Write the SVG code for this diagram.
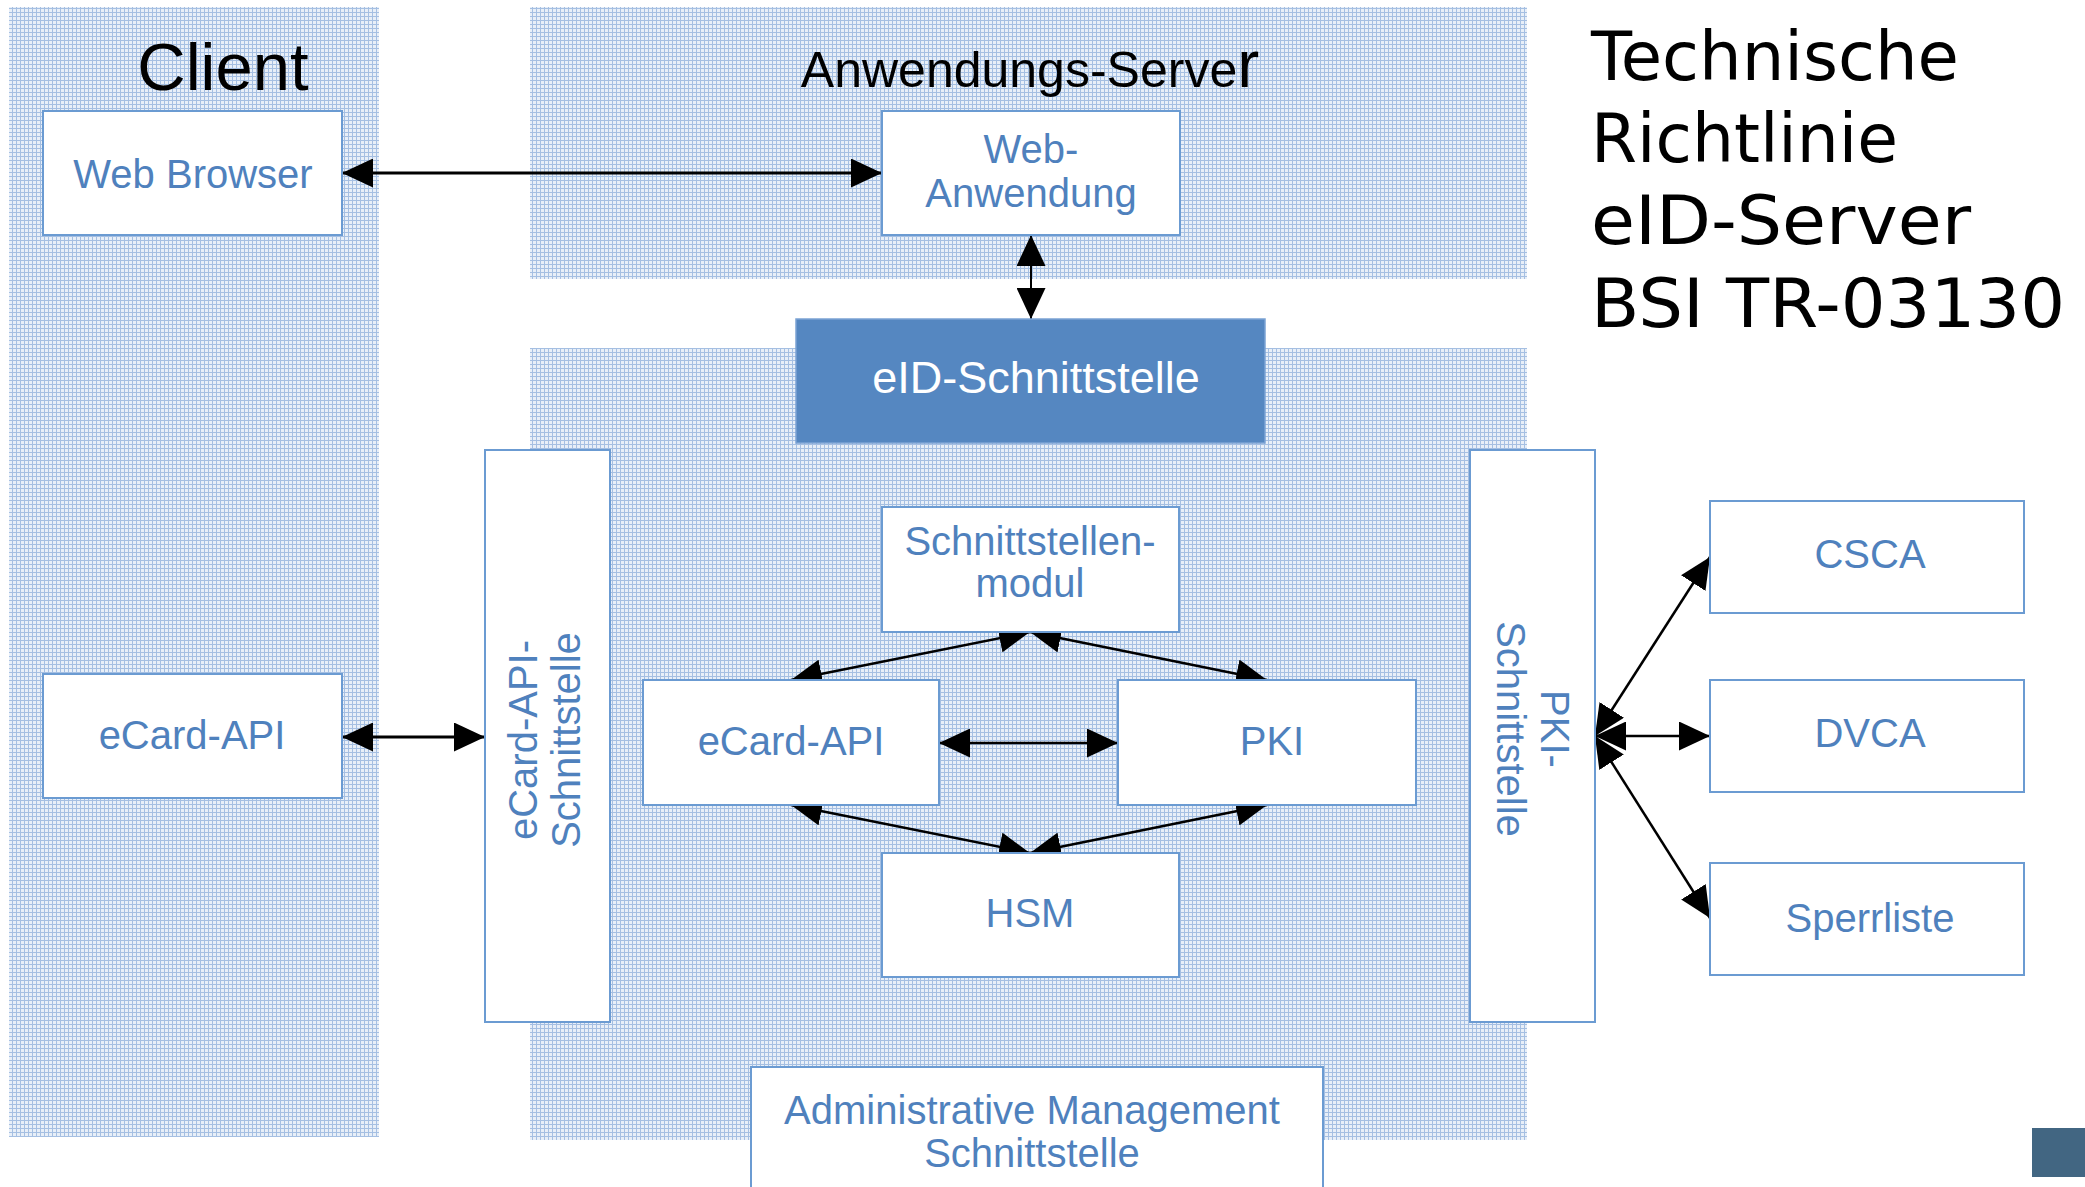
<svg xmlns="http://www.w3.org/2000/svg" width="2085" height="1187" viewBox="0 0 2085 1187">
<defs>
<pattern id="grid" width="4" height="4" patternUnits="userSpaceOnUse">
<rect width="4" height="4" fill="#e8eff8"/>
<rect width="1" height="4" fill="#a5bfe2"/>
<rect width="4" height="1" fill="#a5bfe2"/>
</pattern>
<marker id="ah" markerUnits="userSpaceOnUse" markerWidth="31" markerHeight="29" refX="31" refY="14.5" orient="auto-start-reverse" viewBox="0 0 31 29">
<path d="M0,0 L31,14.5 L0,29 z" fill="#000"/>
</marker>
</defs>
<style>
.panel{fill:url(#grid);}
.box{fill:#fff;stroke:#6b9bd2;stroke-width:2;}
.lbl{font-family:"Liberation Sans",Arial,sans-serif;font-size:40px;fill:#4f81bd;text-anchor:middle;}
.head{font-family:"Liberation Sans",Arial,sans-serif;fill:#000;text-anchor:middle;}
.title{font-family:"DejaVu Sans",Verdana,sans-serif;font-size:68px;fill:#000;}
.con{stroke:#000;stroke-width:2.5;fill:none;marker-start:url(#ah);marker-end:url(#ah);}
</style>
<rect width="2085" height="1187" fill="#fff"/>

<g id="panels">
<rect class="panel" x="9" y="7" width="370" height="1130"/>
<rect class="panel" x="530" y="7" width="997" height="272"/>
<rect class="panel" x="530" y="348" width="997" height="792"/>
</g>

<g id="headings">
<text class="head" x="223" y="90" font-size="67">Client</text>
<text class="head" x="1030" y="87" font-size="50">Anwendungs-Serve<tspan font-size="66">r</tspan></text>
</g>

<g id="title">
<text class="title" x="1591" y="80" textLength="368" lengthAdjust="spacingAndGlyphs">Technische</text>
<text class="title" x="1591" y="162" textLength="307" lengthAdjust="spacingAndGlyphs">Richtlinie</text>
<text class="title" x="1591" y="244" textLength="380" lengthAdjust="spacingAndGlyphs">eID-Server</text>
<text class="title" x="1591" y="327" textLength="474" lengthAdjust="spacingAndGlyphs">BSI TR-03130</text>
</g>

<g id="connectors">
<line class="con" x1="342" y1="173" x2="882" y2="173" style="stroke-width:3"/>
<line class="con" x1="1031" y1="235" x2="1031" y2="319" style="stroke-width:2"/>
<line class="con" x1="342" y1="737" x2="485" y2="737" style="stroke-width:3"/>
<line class="con" x1="1030" y1="632" x2="791" y2="680"/>
<line class="con" x1="1030" y1="632" x2="1267" y2="680"/>
<line class="con" x1="939" y1="743" x2="1118" y2="743"/>
<line class="con" x1="791" y1="805" x2="1030" y2="853"/>
<line class="con" x1="1267" y1="805" x2="1030" y2="853"/>
<line class="con" x1="1595" y1="736" x2="1710" y2="557"/>
<line class="con" x1="1595" y1="736" x2="1710" y2="736"/>
<line class="con" x1="1595" y1="736" x2="1710" y2="918"/>
</g>

<g id="web-browser">
<rect class="box" x="43" y="111" width="299" height="124"/>
<text class="lbl" x="193" y="188">Web Browser</text>
</g>

<g id="web-anwendung">
<rect class="box" x="882" y="111" width="298" height="124"/>
<text class="lbl" x="1031" y="163">Web-</text>
<text class="lbl" x="1031" y="207">Anwendung</text>
</g>

<g id="eid-schnittstelle">
<rect x="796" y="319" width="469" height="124" fill="#5587c1" stroke="#7ba3d4" stroke-width="1.5"/>
<text x="1036" y="393" font-family="'Liberation Sans',Arial,sans-serif" font-size="45" fill="#fff" text-anchor="middle">eID-Schnittstelle</text>
</g>

<g id="ecard-api-client">
<rect class="box" x="43" y="674" width="299" height="124"/>
<text class="lbl" x="192" y="749">eCard-API</text>
</g>

<g id="ecard-api-schnittstelle">
<rect class="box" x="485" y="450" width="125" height="572"/>
<text class="lbl" transform="rotate(-90 537 740)" x="537" y="740">eCard-API-</text>
<text class="lbl" transform="rotate(-90 580 740)" x="580" y="740">Schnittstelle</text>
</g>

<g id="schnittstellenmodul">
<rect class="box" x="882" y="507" width="297" height="125"/>
<text class="lbl" x="1030" y="555">Schnittstellen-</text>
<text class="lbl" x="1030" y="597">modul</text>
</g>

<g id="ecard-api">
<rect class="box" x="643" y="680" width="296" height="125"/>
<text class="lbl" x="791" y="755">eCard-API</text>
</g>

<g id="pki">
<rect class="box" x="1118" y="680" width="298" height="125"/>
<text class="lbl" x="1272" y="755">PKI</text>
</g>

<g id="hsm">
<rect class="box" x="882" y="853" width="297" height="124"/>
<text class="lbl" x="1030" y="927">HSM</text>
</g>

<g id="pki-schnittstelle">
<rect class="box" x="1470" y="450" width="125" height="572"/>
<text class="lbl" transform="rotate(90 1541 729)" x="1541" y="729">PKI-</text>
<text class="lbl" transform="rotate(90 1497 729)" x="1497" y="729">Schnittstelle</text>
</g>

<g id="csca">
<rect class="box" x="1710" y="501" width="314" height="112"/>
<text class="lbl" x="1870" y="568">CSCA</text>
</g>

<g id="dvca">
<rect class="box" x="1710" y="680" width="314" height="112"/>
<text class="lbl" x="1870" y="747">DVCA</text>
</g>

<g id="sperrliste">
<rect class="box" x="1710" y="863" width="314" height="112"/>
<text class="lbl" x="1870" y="932">Sperrliste</text>
</g>

<g id="admin">
<rect class="box" x="751" y="1067" width="572" height="140"/>
<text class="lbl" x="1032" y="1124">Administrative Management</text>
<text class="lbl" x="1032" y="1167">Schnittstelle</text>
</g>

<rect x="2032" y="1128" width="53" height="49" fill="#426682"/>
</svg>
